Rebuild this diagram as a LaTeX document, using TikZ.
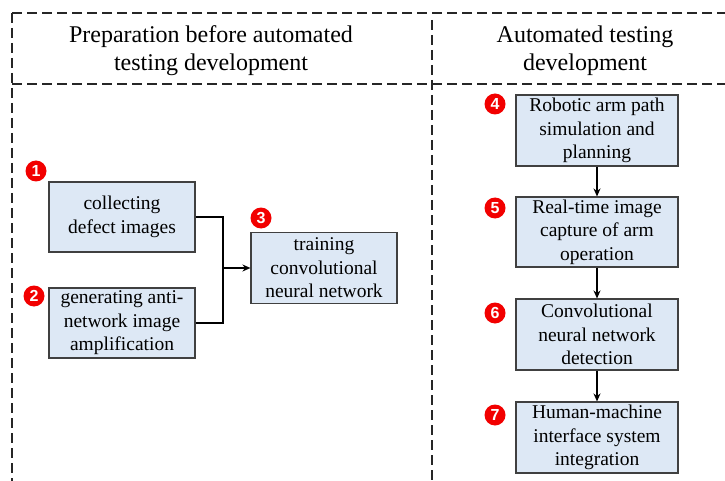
\documentclass[tikz,border=0pt]{standalone}
\usepackage{fontspec}
\setmainfont{Liberation Serif}
\newfontfamily\badgefont{Liberation Sans}
\usetikzlibrary{arrows.meta}
\definecolor{boxfill}{HTML}{DDE8F5}
\definecolor{boxline}{HTML}{404040}
\definecolor{badgered}{HTML}{F20000}
\tikzset{
  x=1pt, y=-1pt,
  frame/.style={line width=1.4pt, draw=black!85, dash pattern=on 10pt off 5pt},
  stepbox/.style={draw=boxline, fill=boxfill, line width=1.1pt, align=center,
    inner sep=0pt, font=\fontsize{19.5}{23.5}\selectfont},
  header/.style={align=center, font=\fontsize{24}{28}\selectfont},
  badge/.style={circle, fill=badgered, inner sep=0pt, minimum size=21pt,
    text=white, font=\badgefont\bfseries\fontsize{16}{16}\selectfont},
  flow/.style={line width=1.8pt, -{Stealth[length=8pt,width=7pt]}},
  link/.style={line width=1.8pt}
}
\begin{document}
\begin{tikzpicture}
\useasboundingbox (0,0) rectangle (725,481);

% frame of the two columns
\draw[frame] (12,13) -- (725,13);
\draw[frame] (12,84) -- (725,84);
\draw[frame] (12,13) -- (12,481);
\draw[frame] (432,20) -- (432,481);

% column titles
\node[header] (hleft) at (211,51) {Preparation before automated\\testing development};
\node[header] (hright) at (585,51) {Automated testing\\development};

% preparation steps
\node[stepbox, minimum width=146pt, minimum height=70pt] (b1) at (122,217) {collecting\\defect images};
\node[stepbox, minimum width=146pt, minimum height=70pt] (b2) at (122,323) {generating anti-\\network image\\amplification};
\node[stepbox, minimum width=146pt, minimum height=71pt] (b3) at (324,268) {training\\convolutional\\neural network};

\coordinate (jn) at (223,268);
\draw[link] (b1.east) -| (jn);
\draw[link] (b2.east) -| (jn);
\draw[flow] (jn) -- (b3.west);

% automated testing steps
\node[stepbox, minimum width=162pt, minimum height=71pt] (b4) at (597,130.5) {Robotic arm path\\simulation and\\planning};
\node[stepbox, minimum width=162pt, minimum height=70pt] (b5) at (597,232) {Real-time image\\capture of arm\\operation};
\node[stepbox, minimum width=162pt, minimum height=71pt] (b6) at (597,334.5) {Convolutional\\neural network\\detection};
\node[stepbox, minimum width=162pt, minimum height=71pt] (b7) at (597,437.5) {Human-machine\\interface system\\integration};

\draw[flow] (b4.south) -- (b5.north);
\draw[flow] (b5.south) -- (b6.north);
\draw[flow] (b6.south) -- (b7.north);

% step numbers
\node[badge] (n1) at (36,171) {1};
\node[badge] (n2) at (34,296) {2};
\node[badge] (n3) at (261,218) {3};
\node[badge] (n4) at (495,104) {4};
\node[badge] (n5) at (495,208) {5};
\node[badge] (n6) at (495,313) {6};
\node[badge] (n7) at (495,415) {7};
\end{tikzpicture}
\end{document}
